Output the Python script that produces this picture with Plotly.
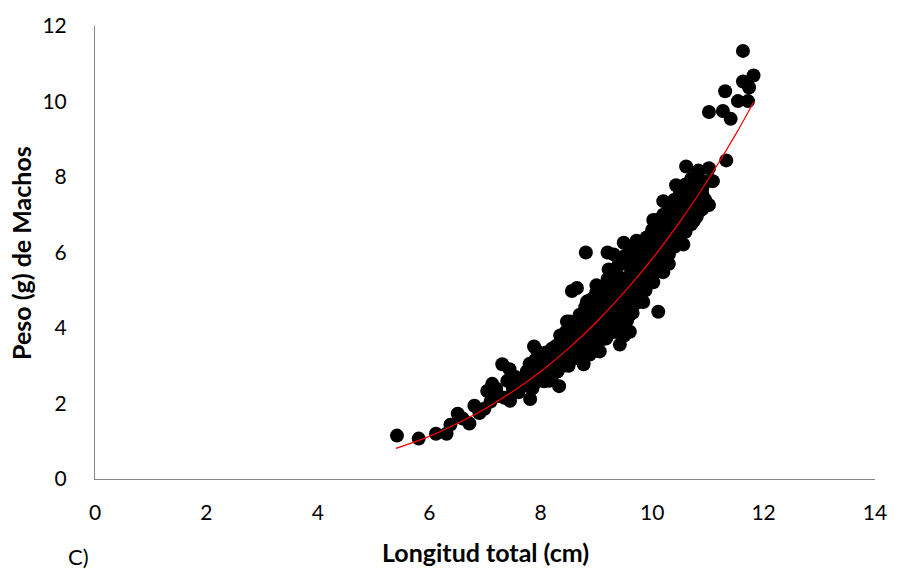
import plotly.graph_objects as go

longitud = [
    5.42, 5.81, 6.12, 6.31, 6.38, 6.51, 6.60, 6.72, 6.81, 6.90, 6.99, 7.04, 7.10, 7.13, 7.20, 7.25,
    7.31, 7.35, 7.40, 7.44, 7.45, 7.50, 7.55, 7.60, 7.65, 7.70, 7.75, 7.81, 7.85, 7.88, 7.94, 7.99,
    8.00, 8.06, 8.05, 8.10, 8.15, 8.20, 8.20, 8.25, 8.29, 8.30, 8.33, 8.35, 8.40, 8.45, 8.47, 8.50,
    8.50, 8.52, 8.56, 8.65, 8.55, 8.60, 8.62, 8.65, 8.70, 8.72, 8.75, 8.77, 8.80, 8.81, 8.83, 8.85,
    8.88, 8.90, 8.92, 8.95, 9.00, 9.00, 9.00, 9.05, 9.06, 9.10, 9.12, 9.15, 9.17, 9.20, 9.20, 9.22,
    9.25, 9.28, 9.30, 9.31, 9.35, 9.35, 9.38, 9.42, 9.42, 9.45, 9.49, 9.50, 9.50, 9.52, 9.55, 9.58,
    9.60, 9.60, 9.62, 9.65, 9.68, 9.72, 9.72, 9.72, 9.75, 9.78, 9.80, 9.82, 9.84, 9.85, 9.88, 9.90,
    9.92, 9.95, 9.98, 10.00, 10.02, 10.02, 10.05, 10.08, 10.08, 10.11, 10.12, 10.15, 10.18, 10.20,
    10.20, 10.22, 10.25, 10.28, 10.30, 10.32, 10.35, 10.38, 10.40, 10.43, 10.45, 10.48, 10.50, 10.52,
    10.56, 10.58, 10.61, 10.62, 10.65, 10.70, 10.72, 10.75, 10.78, 10.83, 10.85, 10.90, 10.95, 11.02,
    11.02, 11.05, 11.09, 11.33, 11.02, 11.27, 11.41, 11.31, 11.54, 11.72, 11.74, 11.63, 11.82, 11.63,
    7.90, 8.00, 8.10, 8.15, 8.25, 8.35, 8.40, 8.55, 8.60, 8.70, 8.90, 9.10, 9.25, 9.40, 9.55, 9.65,
    9.90, 10.00, 10.10, 10.30, 10.45, 10.65, 10.85, 7.95, 8.45, 8.80, 9.30, 9.70, 10.25,
    7.8, 7.8, 7.8, 7.9, 7.9, 7.9, 8.0, 8.0, 8.0, 8.1, 8.1, 8.1, 8.2, 8.2, 8.2, 8.3, 8.3, 8.3,
    8.4, 8.4, 8.4, 8.5, 8.5, 8.5, 8.6, 8.6, 8.6, 8.6, 8.7, 8.7, 8.7, 8.7, 8.8, 8.8, 8.8, 8.8,
    8.9, 8.9, 8.9, 8.9, 9.0, 9.0, 9.0, 9.0, 9.1, 9.1, 9.1, 9.1, 9.2, 9.2, 9.2, 9.2,
    9.3, 9.3, 9.3, 9.3, 9.4, 9.4, 9.4, 9.4, 9.5, 9.5, 9.5, 9.5, 9.6, 9.6, 9.6, 9.6,
    9.7, 9.7, 9.7, 9.7, 9.8, 9.8, 9.8, 9.8, 9.9, 9.9, 9.9, 9.9, 10.0, 10.0, 10.0, 10.0,
    10.1, 10.1, 10.1, 10.1, 10.2, 10.2, 10.2, 10.2, 10.3, 10.3, 10.3, 10.3, 10.4, 10.4, 10.4, 10.4,
    10.5, 10.5, 10.5, 10.5, 10.6, 10.6, 10.6, 10.6, 10.7, 10.7, 10.7, 10.7, 10.8, 10.8, 10.8, 10.8,
    10.9, 10.9, 10.9,
]
peso = [
    1.15, 1.07, 1.20, 1.20, 1.44, 1.73, 1.60, 1.47, 1.94, 1.75, 1.86, 2.33, 2.05, 2.52, 2.40, 2.20,
    3.04, 2.15, 2.60, 2.91, 2.07, 2.40, 2.70, 2.30, 2.55, 2.59, 2.85, 2.12, 2.40, 3.51, 3.38, 3.04,
    2.75, 2.59, 3.20, 2.90, 3.30, 2.70, 3.05, 3.50, 3.51, 2.85, 2.46, 3.80, 3.20, 3.60, 4.17, 3.00,
    3.40, 4.17, 4.98, 5.06, 3.80, 3.20, 3.60, 4.00, 3.40, 3.80, 4.30, 3.04, 3.60, 6.00, 4.70, 4.00,
    3.30, 4.40, 3.70, 4.80, 3.40, 4.10, 5.13, 4.50, 3.38, 3.80, 4.90, 4.20, 3.72, 4.60, 6.00, 5.55,
    4.00, 5.10, 4.40, 5.95, 3.90, 4.80, 5.40, 3.56, 4.20, 5.00, 6.26, 3.80, 4.60, 5.70, 4.20, 5.20,
    3.90, 6.00, 4.80, 4.40, 5.50, 6.31, 4.77, 4.95, 5.90, 5.20, 4.70, 5.60, 4.69, 6.20, 5.00, 5.80,
    6.40, 5.30, 6.10, 5.60, 5.21, 6.86, 6.50, 5.90, 6.86, 4.43, 6.20, 5.50, 6.70, 5.48,
    7.36, 6.00, 7.00, 6.40, 5.70, 6.90, 7.30, 6.20, 6.70, 7.78, 7.10, 6.40, 7.50, 6.90,
    6.21, 7.30, 8.28, 7.70, 6.80, 7.20, 7.90, 6.84, 7.50, 8.17, 7.10, 7.70, 7.40, 7.26,
    8.23, 7.90, 7.89, 8.44, 9.72, 9.75, 9.54, 10.27, 10.01, 10.01, 10.37, 10.53, 10.69, 11.34,
    2.90, 3.00, 3.10, 2.60, 3.20, 3.10, 3.50, 3.50, 3.90, 3.70, 4.10, 4.40, 4.70, 4.60, 5.00, 5.10,
    5.40, 6.20, 6.00, 6.10, 6.80, 7.40, 7.60, 3.20, 3.90, 4.20, 5.20, 5.70, 6.60,
    2.45, 2.75, 3.05, 2.55, 2.85, 3.15, 2.65, 2.95, 3.25, 2.70, 3.05, 3.35, 2.75, 3.10, 3.45, 2.85, 3.20, 3.55,
    3.00, 3.35, 3.75, 3.10, 3.50, 3.95, 3.20, 3.60, 4.00, 4.15, 3.30, 3.70, 4.00, 4.35, 3.40, 3.80, 4.15, 4.55,
    3.50, 3.90, 4.30, 4.75, 3.60, 4.00, 4.45, 4.95, 3.70, 4.10, 4.60, 5.10, 3.80, 4.25, 4.75, 5.30,
    3.90, 4.35, 4.90, 5.50, 4.00, 4.50, 5.05, 5.70, 4.15, 4.65, 5.20, 5.90, 4.35, 4.85, 5.40, 6.00,
    4.65, 5.10, 5.60, 6.10, 4.95, 5.35, 5.80, 6.20, 5.15, 5.60, 6.00, 6.40, 5.35, 5.80, 6.20, 6.60,
    5.55, 6.00, 6.40, 6.80, 5.75, 6.20, 6.60, 7.00, 5.95, 6.40, 6.80, 7.20, 6.15, 6.60, 7.00, 7.40,
    6.35, 6.80, 7.20, 7.60, 6.55, 7.00, 7.40, 7.80, 6.75, 7.20, 7.60, 7.95, 6.95, 7.40, 7.75, 8.05,
    7.15, 7.55, 7.90,
]

# Red trend line
curva_x = [5.40, 6.0, 6.5, 7.0, 7.5, 8.0, 8.5, 9.0, 9.5, 10.0, 10.5, 11.0, 11.5, 11.82]
curva_y = [0.81, 1.13, 1.47, 1.86, 2.32, 2.85, 3.46, 4.16, 4.95, 5.83, 6.82, 7.92, 9.13, 9.98]

x_ticks = [0, 2, 4, 6, 8, 10, 12, 14]
y_ticks = [0, 2, 4, 6, 8, 10, 12]

FONT = "Lato, 'Open Sans', sans-serif"

fig = go.Figure()
fig.add_trace(go.Scatter(
    x=longitud, y=peso, mode="markers",
    marker=dict(color="black", size=14, line=dict(width=0)),
    showlegend=False, hoverinfo="x+y",
))
fig.add_trace(go.Scatter(
    x=curva_x, y=curva_y, mode="lines",
    line=dict(color="#ff0000", width=1.2, shape="spline"),
    showlegend=False,
))

fig.update_layout(
    width=899, height=569,
    margin=dict(l=95, r=19, t=22, b=90),
    paper_bgcolor="white", plot_bgcolor="white",
    font=dict(family=FONT, size=21, color="black"),
    xaxis=dict(
        range=[0, 14], tickvals=x_ticks, ticktext=[str(v) for v in x_ticks],
        showgrid=False, zeroline=False, showline=True, linecolor="#868686", linewidth=1,
        ticks="", ticklabelstandoff=15, tickfont=dict(size=21, family=FONT),
    ),
    yaxis=dict(
        range=[0, 12], tickvals=y_ticks, ticktext=[str(v) for v in y_ticks],
        showgrid=False, zeroline=False, showline=True, linecolor="#868686", linewidth=1,
        ticks="", ticklabelstandoff=23, tickfont=dict(size=21, family=FONT),
    ),
    annotations=[
        dict(text="<b>Longitud total (cm)</b>", xref="paper", yref="paper",
             x=(488 - 95) / 785, y=(479 - 553) / 457, xanchor="center", yanchor="middle",
             showarrow=False, font=dict(size=25, family=FONT)),
        dict(text="<b>Peso (g) de Machos</b>", xref="paper", yref="paper",
             x=(20 - 95) / 785, y=0.5, xanchor="center", yanchor="middle", textangle=-90,
             showarrow=False, font=dict(size=25, family=FONT)),
        dict(text="C)", xref="paper", yref="paper",
             x=(78 - 95) / 785, y=(479 - 557) / 457, xanchor="center", yanchor="middle",
             showarrow=False, font=dict(size=22, family=FONT)),
    ],
)

fig.write_html("out.html", config={"displayModeBar": False},
               post_script="document.body.style.margin='0px';document.body.style.overflow='hidden';")
